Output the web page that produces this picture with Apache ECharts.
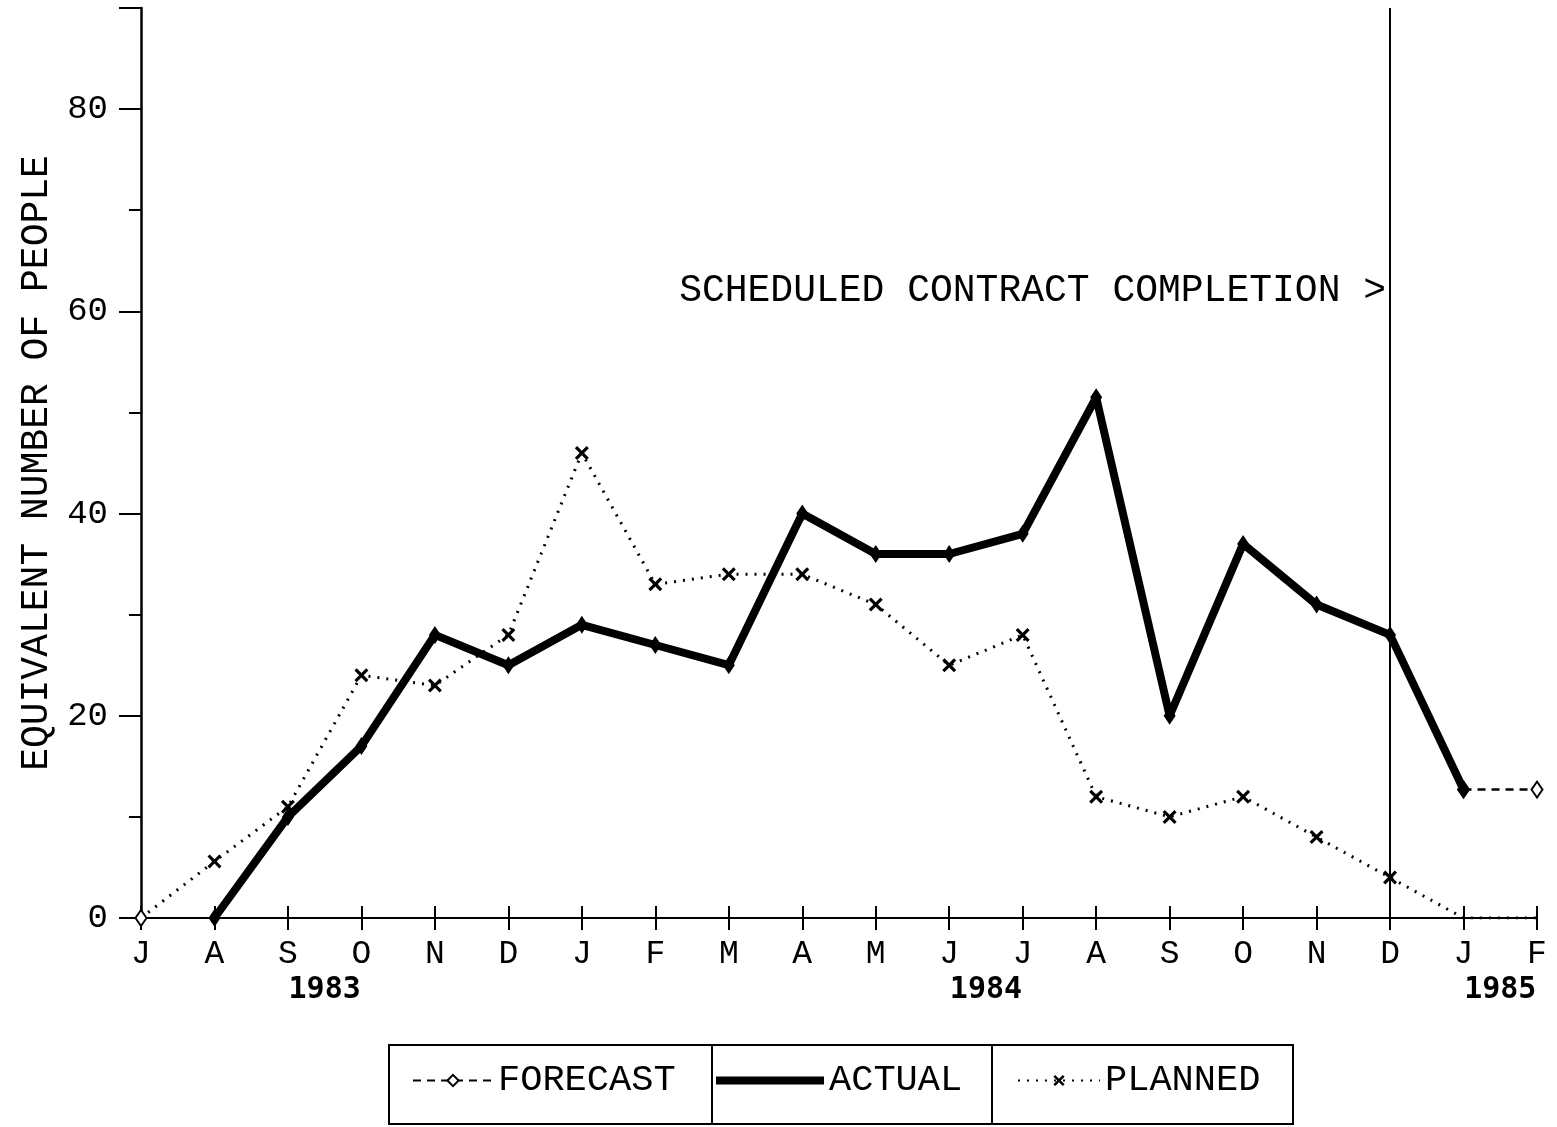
<!DOCTYPE html>
<html>
<head>
<meta charset="utf-8">
<script src="https://cdn.jsdelivr.net/npm/echarts@6/dist/echarts.min.js"></script>
<style>
  html, body { margin: 0; background: #fff; }
  #chart { width: 1557px; height: 1127px; }
</style>
</head>
<body>
<div id="chart"></div>
<script>
// months on the x axis, one tick each
const months = ['JUL 1983', 'AUG 1983', 'SEP 1983', 'OCT 1983', 'NOV 1983', 'DEC 1983',
  'JAN 1984', 'FEB 1984', 'MAR 1984', 'APR 1984', 'MAY 1984', 'JUN 1984', 'JUL 1984',
  'AUG 1984', 'SEP 1984', 'OCT 1984', 'NOV 1984', 'DEC 1984', 'JAN 1985', 'FEB 1985']
// year captions, placed between these two months
const years = ['1983', '1984', '1985']
const yearBetween = [['SEP 1983', 'OCT 1983'], ['JUN 1984', 'JUL 1984'], ['JAN 1985', 'FEB 1985']]
const completionMonth = 'DEC 1984'

// equivalent number of people
const actual = [null, 0, 10, 17, 28, 25, 29, 27, 25, 40, 36, 36, 38, 51.5, 20, 37, 31, 28, 12.7, null]
const planned = [0, 5.6, 11, 24, 23, 28, 46, 33, 34, 34, 31, 25, 28, 12, 10, 12, 8, 4, 0, 0]
const forecast = [0, null, null, null, null, null, null, null, null, null, null, null, null,
  null, null, null, null, null, 12.7, 12.7]

const FONT = 'Liberation Mono'
const crossPath = 'path://M0,1.6L1.6,0L5,3.4L8.4,0L10,1.6L6.6,5L10,8.4L8.4,10L5,6.6L1.6,10L0,8.4L3.4,5Z'

const chart = echarts.init(document.getElementById('chart'))

const option = {
  animation: false,
  backgroundColor: '#fff',
  grid: {left: 141, right: 20, top: 8, bottom: 209},
  xAxis: [{
    type: 'category',
    data: months,
    boundaryGap: false,
    axisLine: {lineStyle: {color: '#000', width: 2}},
    axisTick: {interval: 0, length: 12, lineStyle: {color: '#000', width: 2}},
    axisLabel: {
      interval: 0, margin: 20, color: '#000',
      fontFamily: FONT, fontSize: 33,
      formatter: v => v[0]
    },
    splitLine: {show: false}
  }, {
    type: 'category',
    data: months,
    boundaryGap: false,
    position: 'bottom',
    axisLine: {show: false},
    axisTick: {inside: true, interval: 0, length: 12, lineStyle: {color: '#000', width: 2}},
    axisLabel: {show: false},
    splitLine: {show: false}
  }],
  yAxis: [{
    type: 'value', min: 0, max: 90, interval: 10,
    axisLine: {show: true, lineStyle: {color: '#000', width: 2.5}},
    axisTick: {show: true, length: 12, lineStyle: {color: '#000', width: 2}},
    axisLabel: {show: false},
    splitLine: {show: false}
  }, {
    type: 'value', min: 0, max: 90, interval: 20, position: 'left',
    name: 'EQUIVALENT NUMBER OF PEOPLE',
    nameLocation: 'middle', nameRotate: 90, nameGap: 85,
    nameTextStyle: {fontFamily: FONT, fontSize: 38, color: '#000'},
    axisLine: {show: false},
    axisTick: {show: true, length: 22, lineStyle: {color: '#000', width: 2}},
    axisLabel: {
      margin: 33, color: '#000', fontFamily: FONT, fontSize: 34,
      formatter: v => (v % 20 === 0 ? String(v) : '')
    },
    splitLine: {show: false}
  }],
  legend: [{
    data: ['FORECAST'], left: 412, top: 1062, padding: 0,
    itemWidth: 80, itemHeight: 14,
    textStyle: {fontFamily: FONT, fontSize: 37, color: '#000', lineHeight: 36}
  }, {
    data: [{name: 'ACTUAL', icon: 'rect'}], left: 716, top: 1062, padding: 0,
    itemWidth: 108, itemHeight: 8,
    textStyle: {fontFamily: FONT, fontSize: 37, color: '#000', lineHeight: 36}
  }, {
    data: ['PLANNED'], left: 1017, top: 1062, padding: 0,
    itemWidth: 82, itemHeight: 14,
    textStyle: {fontFamily: FONT, fontSize: 37, color: '#000', lineHeight: 36}
  }],
  series: [{
    name: 'PLANNED',
    type: 'line',
    data: planned,
    symbol: crossPath,
    // no cross where the plan sits on the axis
    symbolSize: v => (v === 0 ? 0 : 14),
    itemStyle: {color: '#000'},
    lineStyle: {color: '#000', width: 3, type: [2, 7]},
    z: 2
  }, {
    name: 'FORECAST',
    type: 'line',
    data: forecast,
    symbol: 'emptyDiamond',
    symbolSize: [11, 16],
    itemStyle: {color: '#000', borderWidth: 2},
    lineStyle: {color: '#000', width: 2.5, type: [8, 6]},
    z: 3
  }, {
    name: 'ACTUAL',
    type: 'line',
    data: actual,
    symbol: 'diamond',
    symbolSize: [12, 18],
    itemStyle: {color: '#000'},
    lineStyle: {color: '#000', width: 8},
    z: 4,
    markLine: {
      silent: true,
      symbol: 'none',
      label: {show: false},
      lineStyle: {color: '#000', width: 2, type: 'solid'},
      data: [{xAxis: completionMonth}]
    }
  }]
}
chart.setOption(option)

// year captions, legend boxes and the completion note
const px = name => chart.convertToPixel({xAxisIndex: 0}, name)
const y0 = chart.convertToPixel({yAxisIndex: 0}, 0)
const graphics = years.map((y, i) => ({
  type: 'text',
  x: (px(yearBetween[i][0]) + px(yearBetween[i][1])) / 2,
  y: y0 + 72,
  style: {
    text: y, fill: '#000', align: 'center', verticalAlign: 'middle',
    font: 'bold 30px "DejaVu Sans Mono"'
  }
}))
const cells = [[389, 712], [712, 992], [992, 1293]]
cells.forEach(c => graphics.push({
  type: 'rect',
  shape: {x: c[0], y: 1045, width: c[1] - c[0], height: 79},
  style: {fill: 'none', stroke: '#000', lineWidth: 2}
}))
graphics.push({
  type: 'text',
  x: px(completionMonth) - 4,
  y: chart.convertToPixel({yAxisIndex: 0}, 62),
  style: {
    text: 'SCHEDULED CONTRACT COMPLETION >', fill: '#000',
    align: 'right', verticalAlign: 'middle',
    font: '38px "Liberation Mono"'
  }
})
chart.setOption({graphic: graphics})
</script>
</body>
</html>
